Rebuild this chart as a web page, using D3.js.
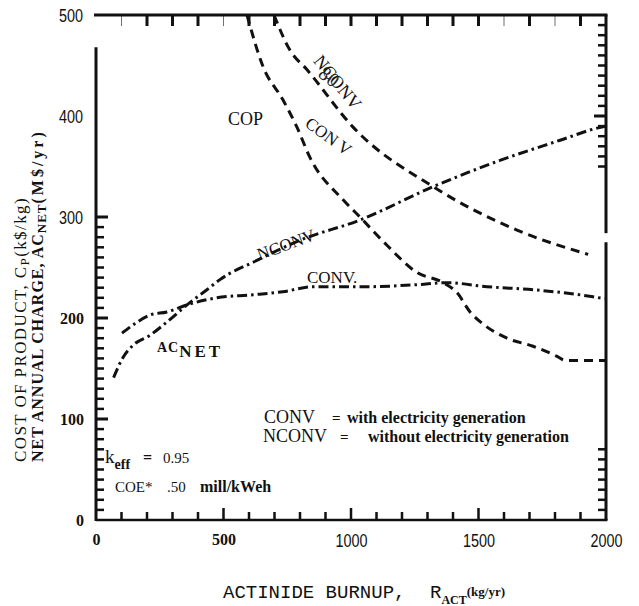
<!DOCTYPE html>
<html>
<head>
<meta charset="utf-8">
<script src="https://cdn.jsdelivr.net/npm/d3@7"></script>
<style>
  body { margin: 0; background: #fff; }
  svg { display: block; }
  .serif { font-family: "Liberation Serif", "DejaVu Serif", serif; }
  .narrow { font-family: "Liberation Sans", "DejaVu Sans", sans-serif; }
  .mono { font-family: "Liberation Mono", "DejaVu Sans Mono", monospace; }
</style>
</head>
<body>
<svg id="chart" width="639" height="606"></svg>
<script>
// ---- data ----
const xDomain = [0, 2000];
const yDomain = [0, 500];
const xTickLabels = [0, 500, 1000, 1500, 2000];
const yTickLabels = [0, 100, 200, 300, 400, 500];

// cost of product, with electricity generation (k$/kg)
const copConvX = [592, 655, 733, 788, 839, 969, 1035, 1141, 1259, 1361, 1416, 1467, 1518, 1612, 1714, 1808, 1840, 2000];
const copConvY = [500, 449, 416, 389, 359, 317, 300, 272, 245, 235, 225, 206, 194, 180, 172, 162, 158, 158];

// cost of product, without electricity generation (k$/kg)
const copNconvX = [698, 761, 827, 1008, 1322, 1651, 1930];
const copNconvY = [500, 465, 446, 389, 330, 287, 263];

// net annual charge, without electricity generation (M$/yr)
const acNconvX = [69, 106, 145, 212, 278, 357, 435, 486, 631, 800, 1035, 1322, 1584, 1820, 1965, 2000];
const acNconvY = [141, 161, 173, 183, 196, 213, 228, 238, 257, 277, 297, 330, 356, 376, 388, 390];

// net annual charge, with electricity generation (M$/yr)
const acConvX = [102, 145, 212, 278, 357, 474, 616, 733, 851, 1063, 1259, 1376, 1533, 1714, 1949, 1995];
const acConvY = [185, 193, 203, 206, 213, 220, 223, 226, 231, 231, 233, 235, 231, 228, 221, 219];

// ---- layout ----
const svg = d3.select("#chart");
const x = d3.scaleLinear(xDomain, [96, 606]);
const y = d3.scaleLinear(yDomain, [520, 15]);
const ink = "#111";

const zip = (xs, ys) => xs.map((v, i) => [v, ys[i]]);
const lineGen = d3.line().x(d => x(d[0])).y(d => y(d[1])).curve(d3.curveMonotoneX);

// frame
const frame = svg.append("g").attr("stroke", ink).attr("fill", "none").attr("stroke-linecap", "butt");
frame.append("line").attr("x1", x(0) - 2).attr("x2", x(2000) + 1.5).attr("y1", y(500)).attr("y2", y(500)).attr("stroke-width", 3);
frame.append("line").attr("x1", x(0)).attr("x2", x(0)).attr("y1", y(468)).attr("y2", y(0) + 1).attr("stroke-width", 3);
frame.append("line").attr("x1", x(0)).attr("x2", x(2000) + 1.5).attr("y1", y(0)).attr("y2", y(0)).attr("stroke-width", 2.5);
frame.append("line").attr("x1", x(2000)).attr("x2", x(2000)).attr("y1", y(500)).attr("y2", y(284)).attr("stroke-width", 3);
frame.append("line").attr("x1", x(2000)).attr("x2", x(2000)).attr("y1", y(275)).attr("y2", y(0)).attr("stroke-width", 3);

// tick labels (0-200 in bold serif, the rest in a condensed sans)
const boldSerifY = [0, 100, 200];
const gy = svg.append("g").attr("transform", `translate(${x(0)},0)`)
  .call(d3.axisLeft(y).tickValues(yTickLabels).tickSize(0).tickPadding(0).tickFormat(d3.format("d")));
gy.select(".domain").remove();
gy.selectAll(".tick line").remove();
gy.selectAll(".tick text").each(function (d) {
  const t = d3.select(this).attr("fill", ink);
  if (boldSerifY.includes(d)) {
    t.attr("class", "serif").attr("font-size", 16).attr("font-weight", "bold").attr("x", -12).attr("dy", "0.32em");
  } else {
    t.attr("class", "narrow").attr("font-size", 18).attr("x", -13 / 0.8).attr("dy", "0.38em")
      .attr("transform", "scale(0.8,1)");
  }
});

const boldSerifX = [0, 500];
const gx = svg.append("g").attr("transform", `translate(0,${y(0)})`)
  .call(d3.axisBottom(x).tickValues(xTickLabels).tickSize(0).tickPadding(14).tickFormat(d3.format("d")));
gx.select(".domain").remove();
gx.selectAll(".tick line").remove();
gx.selectAll(".tick text").each(function (d) {
  const t = d3.select(this).attr("fill", ink).attr("dy", "0.71em");
  if (boldSerifX.includes(d)) {
    t.attr("class", "serif").attr("font-size", 16).attr("font-weight", "bold");
  } else {
    t.attr("class", "narrow").attr("font-size", 18).attr("transform", "scale(0.8,1)");
  }
});

// curves
const curves = svg.append("g").attr("fill", "none").attr("stroke", ink).attr("stroke-width", 3);
curves.append("path").attr("d", lineGen(zip(copConvX, copConvY))).attr("stroke-dasharray", "9,6");
curves.append("path").attr("d", lineGen(zip(copNconvX, copNconvY))).attr("stroke-dasharray", "9,6");
curves.append("path").attr("d", lineGen(zip(acNconvX, acNconvY))).attr("stroke-dasharray", "10,4,2.5,4");
curves.append("path").attr("d", lineGen(zip(acConvX, acConvY))).attr("stroke-dasharray", "10,4,2.5,4");

// in-plot labels
function label(txt, cx, cy, angle, size, weight) {
  return svg.append("text").attr("class", "serif")
    .attr("transform", `translate(${cx},${cy}) rotate(${angle})`)
    .attr("text-anchor", "middle").attr("font-size", size)
    .attr("font-weight", weight || "normal").attr("fill", ink).text(txt);
}
svg.append("text").attr("class", "serif").attr("x", 228).attr("y", 125)
  .attr("font-size", 18).attr("fill", ink).text("COP");
label("NCONV", 333, 86, 51, 18);
label("80", 325, 82, 38, 20).attr("fill", "#222");
label("CON V", 325, 141, 36, 17);
label("NCONV", 288, 250, -20, 17);
svg.append("text").attr("class", "serif").attr("x", 307).attr("y", 283)
  .attr("font-size", 17).attr("fill", ink).text("CONV.");

const acNet = svg.append("text").attr("class", "serif").attr("x", 157).attr("y", 352)
  .attr("fill", ink).attr("font-weight", "bold");
acNet.append("tspan").attr("font-size", 14).attr("letter-spacing", 1).text("AC");
acNet.append("tspan").attr("font-size", 17).attr("dy", 5).attr("letter-spacing", 3).text("NET");

// notes
const note = (tx, ty, size, weight, txt) => svg.append("text").attr("class", "serif")
  .attr("x", tx).attr("y", ty).attr("font-size", size).attr("font-weight", weight).attr("fill", ink).text(txt);
note(264, 423, 18, "normal", "CONV");
note(332, 423, 15, "bold", "=");
note(347, 423, 16, "bold", "with electricity generation");
note(263, 442, 18, "normal", "NCONV");
note(340, 442, 15, "bold", "=");
note(368, 442, 16, "bold", "without electricity generation");

const keff = svg.append("text").attr("class", "serif").attr("x", 105).attr("y", 463).attr("fill", ink);
keff.append("tspan").attr("font-size", 19).text("k");
keff.append("tspan").attr("font-size", 14).attr("font-weight", "bold").attr("dy", 6).text("eff");
note(143, 463, 16, "bold", "=");
note(163, 463, 15, "normal", "0.95");
note(115, 492, 15, "normal", "COE*");
note(167, 492, 15, "normal", ".50");
note(200, 492, 16, "bold", "mill/kWeh");

// axis titles
const xt = svg.append("text").attr("y", 598).attr("fill", ink);
xt.append("tspan").attr("class", "mono").attr("x", 223).attr("font-size", 19).text("ACTINIDE BURNUP,");
xt.append("tspan").attr("class", "mono").attr("x", 430).attr("font-size", 19).text("R");
xt.append("tspan").attr("class", "serif").attr("font-size", 12).attr("font-weight", "bold").attr("dy", 6).text("ACT");
xt.append("tspan").attr("class", "serif").attr("font-size", 13).attr("font-weight", "bold").attr("dy", -8).text("(kg/yr)");

const yt1 = svg.append("text").attr("class", "serif").attr("transform", "translate(26,462) rotate(-90)")
  .attr("fill", ink).attr("font-size", 17).attr("letter-spacing", 1.4);
yt1.append("tspan").text("COST OF PRODUCT, C");
yt1.append("tspan").attr("font-size", 13).attr("dy", 3).text("P");
yt1.append("tspan").attr("dy", -3).text("(k$/kg)");

const yt2 = svg.append("text").attr("class", "serif").attr("transform", "translate(43,462) rotate(-90)")
  .attr("fill", ink).attr("font-size", 16).attr("font-weight", "bold").attr("letter-spacing", 1);
yt2.append("tspan").text("NET ANNUAL CHARGE, AC");
yt2.append("tspan").attr("font-size", 13).attr("dy", 3).text("NET");
yt2.append("tspan").attr("dy", -3).attr("letter-spacing", 3).text("(M$/yr)");

// tick marks as small filled bars, placed with the scales
// horizontal axes: dir +1 grows down, -1 grows up; vertical axes: dir +1 grows right, -1 left
const xMinor = d3.range(100, 2000, 100);
const thinTop = [100, 500, 1600, 1800];
const yLeft = d3.range(10, 301, 10);
const yRight = d3.range(350, 500, 10).concat(d3.range(10, 80, 10));
const tickLayer = svg.append("g").attr("fill", ink);
function xBars(values, atY, dir, len, width, opacity) {
  values.forEach(v => {
    tickLayer.append("rect")
      .attr("x", x(v) - width / 2).attr("width", width)
      .attr("y", dir > 0 ? atY : atY - len).attr("height", len)
      .attr("fill-opacity", opacity || 1);
  });
}
function yBars(values, atX, dir, len, width) {
  values.forEach(v => {
    tickLayer.append("rect")
      .attr("y", y(v) - width / 2).attr("height", width)
      .attr("x", dir > 0 ? atX : atX - len).attr("width", len);
  });
}
xBars(xMinor.filter(v => v % 500 !== 0), y(0), -1, 8, 2.5);
xBars([500, 1000, 1500], y(0), -1, 12, 2.5);
xBars(xMinor.filter(v => !thinTop.includes(v)), y(500), 1, 11, 3);
xBars(thinTop, y(500), 1, 11, 1, 0.6);
yBars(yLeft.filter(v => v % 100 !== 0), x(0), 1, 8, 2.5);
yBars([100, 200, 300], x(0), 1, 12, 3);
yBars(yRight.filter(v => v !== 400), x(2000), -1, 8, 2.5);
yBars([400], x(2000), -1, 12, 3);
</script>
</body>
</html>
